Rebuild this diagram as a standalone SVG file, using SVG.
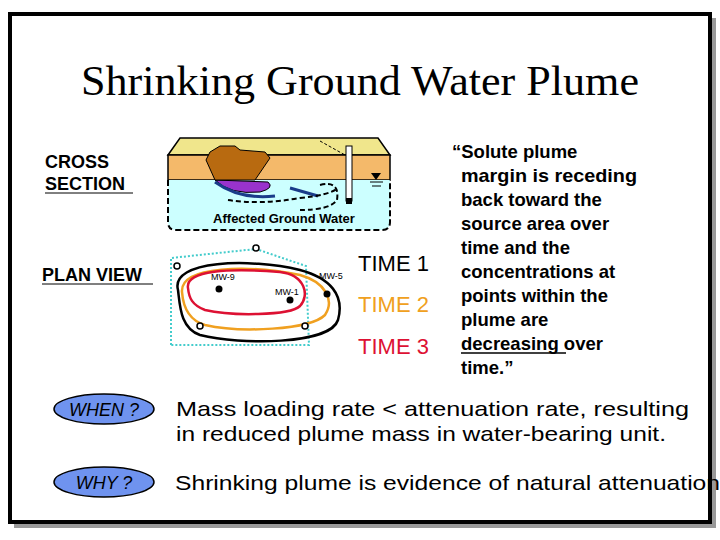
<svg xmlns="http://www.w3.org/2000/svg" width="720" height="540" viewBox="0 0 720 540">
<style>
.s{font-family:"Liberation Sans",Arial,sans-serif}
.b{font-weight:bold}
.t{font-size:21px}
.q{font-size:18.5px;font-weight:bold}
</style>
<rect width="720" height="540" fill="#fff"/>
<rect x="14" y="18" width="702" height="510" fill="#999"/>
<rect x="10" y="14" width="700" height="508" fill="#fff" stroke="#000" stroke-width="4"/>
<text x="360" y="95" text-anchor="middle" font-family="Liberation Serif,serif" font-size="42" textLength="558" lengthAdjust="spacingAndGlyphs">Shrinking Ground Water Plume</text>
<g id="labels" class="s b" font-size="18">
<text x="45" y="168">CROSS</text>
<text x="45" y="190">SECTION</text>
<line x1="45" y1="193" x2="133" y2="193" stroke="#000"/>
<text x="42" y="281">PLAN VIEW</text>
<line x1="42" y1="284" x2="153" y2="284" stroke="#000"/>
</g>
<g id="cross-section">
<polygon points="168,155 180,138 378,138 390,155" fill="#f0e68c" stroke="#000" stroke-width="1.5"/>
<rect x="168" y="155" width="222" height="25" fill="#f4b96a" stroke="#000" stroke-width="1.5"/>
<path d="M168,180 L168,222 Q168,230 176,230 L382,230 Q390,230 390,222 L390,180" fill="#ccffff" stroke="#000" stroke-width="2" stroke-dasharray="6,3"/>
<path d="M215,180 Q230,195 260,192 Q275,188 268,182 Z" fill="#9933cc" stroke="#000"/>
<path d="M215,182 Q240,200 275,196" fill="none" stroke="#1a3c8a" stroke-width="3"/>
<path d="M210,152 L206,160 L215,180 L255,180 L270,158 L265,152 L240,150 L235,146 L220,146 Z" fill="#b86a10" stroke="#000"/>
<line x1="290" y1="188" x2="318" y2="196" stroke="#1a3c8a" stroke-width="3"/>
<path d="M228,200 Q260,205 300,198 Q330,195 338,188" fill="none" stroke="#000" stroke-width="2" stroke-dasharray="5,3"/>
<path d="M320,185 Q340,180 337,200 Q330,210 300,210" fill="none" stroke="#000" stroke-width="2" stroke-dasharray="5,3"/>
<line x1="320" y1="141" x2="345" y2="155" stroke="#000" stroke-dasharray="3,2"/>
<rect x="346" y="146" width="6" height="55" fill="#fff" stroke="#000"/>
<rect x="346" y="198" width="6" height="6" fill="#000"/>
<polygon points="371,173 381,173 376,180" fill="#000"/>
<line x1="370" y1="182" x2="383" y2="182" stroke="#000"/>
<line x1="372" y1="186" x2="381" y2="186" stroke="#000"/>
<text x="284" y="223" text-anchor="middle" class="s b" font-size="13">Affected Ground Water</text>
</g>
<g id="plan-view">
<polyline points="171,345 171,258 256,249 306,266 309,345 171,345" fill="none" stroke="#4cc" stroke-width="2" stroke-dasharray="2,2"/>
<path d="M178,290 C170,260 250,258 300,270 C330,278 345,295 338,320 C330,345 240,345 200,335 C180,328 180,305 178,290 Z" fill="none" stroke="#000" stroke-width="2.5"/>
<path d="M182,292 C180,265 250,265 300,275 C325,282 335,300 325,315 C310,330 240,333 205,325 C188,320 183,305 182,292 Z" fill="none" stroke="#f0a020" stroke-width="2.5"/>
<path d="M188,288 C185,270 230,268 280,272 C305,275 310,295 300,306 C290,316 230,316 205,310 C192,305 189,298 188,288 Z" fill="none" stroke="#dd1133" stroke-width="2.5"/>
<g fill="#000"><circle cx="219" cy="289" r="3.5"/><circle cx="290" cy="300" r="3.5"/><circle cx="327" cy="294" r="3.5"/></g>
<g fill="#fff" stroke="#000" stroke-width="1.5"><circle cx="177" cy="266" r="3"/><circle cx="256" cy="248" r="3"/><circle cx="200" cy="326" r="3"/><circle cx="305" cy="326" r="3"/></g>
<g class="s" font-size="9"><text x="211" y="280">MW-9</text><text x="275" y="295">MW-1</text><text x="319" y="279">MW-5</text></g>
</g>
<g id="times" class="s" font-size="22">
<text x="358" y="271" fill="#000">TIME 1</text>
<text x="358" y="312" fill="#f0a020">TIME 2</text>
<text x="358" y="354" fill="#dd1133">TIME 3</text>
</g>
<g id="quote" class="s q">
<text x="452" y="158">“Solute plume</text>
<text x="461" y="182" textLength="176" lengthAdjust="spacingAndGlyphs">margin is receding</text>
<text x="461" y="206">back toward the</text>
<text x="461" y="230">source area over</text>
<text x="461" y="254">time and the</text>
<text x="461" y="278">concentrations at</text>
<text x="461" y="302">points within the</text>
<text x="461" y="326">plume are</text>
<text x="461" y="350">decreasing over</text>
<text x="461" y="374">time.”</text>
<line x1="461" y1="353" x2="566" y2="353" stroke="#000" stroke-width="1.5"/>
</g>
<g id="when">
<ellipse cx="104" cy="409" rx="50" ry="15" fill="#6f93ef" stroke="#000" stroke-width="1.5"/>
<text x="104" y="416" text-anchor="middle" class="s" font-style="italic" font-size="18">WHEN ?</text>
</g>
<g id="why">
<ellipse cx="104" cy="482" rx="50" ry="15" fill="#6f93ef" stroke="#000" stroke-width="1.5"/>
<text x="104" y="489" text-anchor="middle" class="s" font-style="italic" font-size="18">WHY ?</text>
</g>
<g class="s t">
<text x="176" y="416" textLength="513" lengthAdjust="spacingAndGlyphs">Mass loading rate  &lt;  attenuation rate, resulting</text>
<text x="176" y="441" textLength="490" lengthAdjust="spacingAndGlyphs">in reduced plume mass in water-bearing unit.</text>
<text x="175" y="490" textLength="545" lengthAdjust="spacingAndGlyphs">Shrinking plume is evidence of natural attenuation</text>
</g>
<g id="connectors"/>
</svg>
